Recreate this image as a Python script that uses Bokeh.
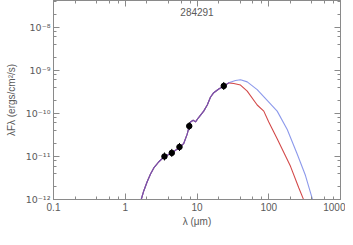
import numpy as np
from bokeh.plotting import figure
from bokeh.models import LogAxis, LogTicker, Range1d, Label, CustomJSTickFormatter
from bokeh.embed import file_html
from bokeh.resources import INLINE

# ---- data ----
title_text = "284291"
# observed photometry (micron, erg/cm2/s)
obs_wave = [3.52, 4.45, 5.7, 7.8, 23.6]
obs_flux = [1.00e-11, 1.21e-11, 1.66e-11, 5.07e-11, 4.34e-10]

# shared part of both model SEDs
shared_wave = [1.55, 1.67, 1.81, 2.02, 2.25, 2.50, 2.94, 3.44, 4.51, 5.76, 6.55,
               7.30, 7.78, 8.11, 8.85, 9.53, 10.6, 12.4, 13.9, 15.4, 17.1,
               20.1, 23.7, 27.7]
shared_flux = [6.5e-13, 1.0e-12, 1.58e-12, 2.59e-12, 3.92e-12, 5.42e-12, 7.54e-12,
               9.64e-12, 1.23e-11, 1.63e-11, 2.02e-11, 3.30e-11, 4.97e-11,
               6.35e-11, 6.92e-11, 6.35e-11, 8.13e-11, 1.13e-10, 1.57e-10,
               2.37e-10, 3.03e-10, 3.69e-10, 4.34e-10, 5.13e-10]

# blue model tail
blue_wave = [34.4, 40.4, 50.1, 69.0, 95.1, 131, 181, 249, 325, 404, 430]
blue_flux = [5.84e-10, 6.03e-10, 5.40e-10, 3.56e-10, 2.01e-10, 1.13e-10,
             4.23e-11, 1.14e-11, 3.6e-12, 1.05e-12, 6.0e-13]
# red model tail
red_wave = [32.6, 40.4, 50.1, 69.0, 85.3, 100, 131, 201, 262, 302, 320]
red_flux = [4.96e-10, 4.56e-10, 3.30e-10, 1.57e-10, 1.13e-10, 6.35e-11,
            2.58e-11, 5.89e-12, 1.87e-12, 1.05e-12, 6.0e-13]

x_ticks = [0.1, 1, 10, 100, 1000]
x_tick_labels = ["0.1", "1", "10", "100", "1000"]
y_ticks = [1e-12, 1e-11, 1e-10, 1e-9, 1e-8]
y_tick_labels = ["10\u207b\u00b9\u00b2", "10\u207b\u00b9\u00b9", "10\u207b\u00b9\u2070",
                 "10\u207b\u2079", "10\u207b\u2078"]

x_lo, x_hi = 0.1, 1000
y_lo, y_hi = 1e-12, 4.2e-8

AX = "#8a8a8a"
TXT = "#5a5a5a"
FONT = "Liberation Sans"

p = figure(width=345, height=229, x_axis_type="log", y_axis_type="log",
           x_range=Range1d(x_lo, x_hi), y_range=Range1d(y_lo, y_hi),
           output_backend="svg", toolbar_location=None,
           min_border_left=53, min_border_right=5, min_border_top=0,
           min_border_bottom=0)
p.grid.visible = False
p.outline_line_color = AX
p.background_fill_color = "white"
p.border_fill_color = "white"

def style_axis(ax):
    ax.axis_line_color = AX
    ax.major_tick_line_color = AX
    ax.minor_tick_line_color = AX
    ax.major_tick_in = 6
    ax.major_tick_out = 0
    ax.minor_tick_in = 3
    ax.minor_tick_out = 0
    ax.major_label_text_color = TXT
    ax.major_label_text_font = FONT
    ax.major_label_text_font_size = "10px"
    ax.axis_label_text_color = TXT
    ax.axis_label_text_font = FONT
    ax.axis_label_text_font_size = "10px"
    ax.axis_label_text_font_style = "normal"
    ax.axis_label_standoff = 2
    ax.major_label_standoff = 3

xa = p.xaxis[0]
style_axis(xa)
xa.ticker = LogTicker(desired_num_ticks=5)
xa.major_label_overrides = {t: l for t, l in zip(x_ticks, x_tick_labels)}
xa.axis_label = "\u03bb (\u03bcm)"

ya = p.yaxis[0]
style_axis(ya)
ya.ticker = LogTicker(desired_num_ticks=5)
ya.major_label_overrides = {t: l for t, l in zip(y_ticks, y_tick_labels)}
ya.major_label_text_font = "DejaVu Sans"
ya.major_label_text_font_size = "9.5px"
ya.axis_label = "\u03bbF\u03bb (ergs/cm\u00b2/s)"
ya.axis_label_standoff = 6
ya.major_label_orientation = "horizontal"

top = LogAxis(ticker=LogTicker(desired_num_ticks=5),
              formatter=CustomJSTickFormatter(code="return ''"))
style_axis(top)
top.major_label_standoff = 0
p.add_layout(top, "above")

right = LogAxis(ticker=LogTicker(desired_num_ticks=5),
                formatter=CustomJSTickFormatter(code="return ''"))
style_axis(right)
right.major_label_standoff = 0
p.add_layout(right, "right")

red_x = shared_wave + red_wave
red_y = shared_flux + red_flux
blue_x = shared_wave + blue_wave
blue_y = shared_flux + blue_flux

p.line(red_x, red_y, line_color="#d34a4a", line_width=1.1)
p.line(blue_x, blue_y, line_color="#6f80e6", line_width=1.1, line_alpha=0.8)
p.line(shared_wave, shared_flux, line_color="#7a4fa8", line_width=1.1)

p.scatter(obs_wave, obs_flux, marker="dash", angle=np.pi / 2, size=8,
          line_color="black", line_width=1)
p.scatter(obs_wave, obs_flux, marker="circle", size=5.5,
          fill_color="black", line_color="black")

lab = Label(x=10, y=2.3e-8, text=title_text, text_align="center",
            text_baseline="middle", text_color=TXT, text_font=FONT,
            text_font_size="10px")
p.add_layout(lab)

open("out.html", "w").write(file_html(p, INLINE))
